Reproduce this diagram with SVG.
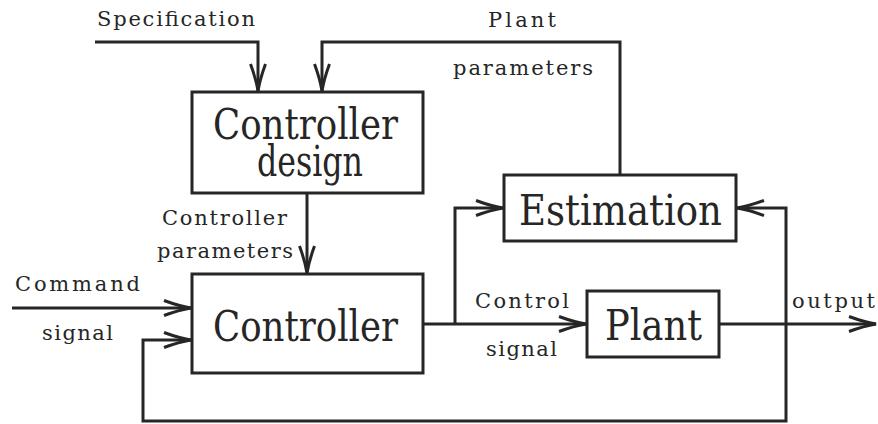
<svg xmlns="http://www.w3.org/2000/svg" width="878" height="424" viewBox="0 0 878 424">
  <style>
    .box { fill: #ffffff; stroke: #262626; stroke-width: 3; }
    .wire { fill: none; stroke: #262626; stroke-width: 3; }
    .arr { marker-end: url(#head); }
    .big { font-family: "DejaVu Serif", serif; font-size: 42px; fill: #262626; }
    .lbl { font-family: "DejaVu Serif", serif; font-size: 21px; fill: #262626; }
  </style>
  <defs>
    <marker id="head" viewBox="-30 -10 32 20" refX="0" refY="0" markerWidth="32" markerHeight="20" markerUnits="userSpaceOnUse" orient="auto">
      <path d="M -27 -7.5 Q -12 -2 0 0 Q -12 2 -27 7.5" fill="none" stroke="#262626" stroke-width="3" stroke-linejoin="miter"/>
    </marker>
  </defs>

  <rect width="878" height="424" fill="#ffffff"/>

  <!-- signal paths -->
  <g id="connectors">
    <path class="wire arr" d="M 95 42 H 258 V 91"/>
    <path class="wire arr" d="M 620 175 V 42 H 322 V 91"/>
    <path class="wire arr" d="M 307 193 V 273"/>
    <path class="wire arr" d="M 12 308 H 191"/>
    <path class="wire" d="M 423 324 H 455"/>
    <path class="wire arr" d="M 455 324 H 586"/>
    <path class="wire arr" d="M 455 324 V 208 H 503"/>
    <path class="wire arr" d="M 719 324 H 876"/>
    <path class="wire arr" d="M 786 324 V 421 H 143 V 340 H 191"/>
    <path class="wire arr" d="M 786 324 V 208 H 737"/>
  </g>

  <g id="controller-design">
    <rect class="box" x="192" y="92" width="231" height="101"/>
    <text class="big" x="213" y="139" textLength="185" lengthAdjust="spacingAndGlyphs">Controller</text>
    <text class="big" x="257" y="176" textLength="106" lengthAdjust="spacingAndGlyphs">design</text>
  </g>

  <g id="estimation">
    <rect class="box" x="504" y="175" width="232" height="66"/>
    <text class="big" x="519" y="225" textLength="203" lengthAdjust="spacingAndGlyphs">Estimation</text>
  </g>

  <g id="controller">
    <rect class="box" x="192" y="274" width="231" height="99"/>
    <text class="big" x="213" y="341" textLength="185" lengthAdjust="spacingAndGlyphs">Controller</text>
  </g>

  <g id="plant">
    <rect class="box" x="587" y="291" width="132" height="66"/>
    <text class="big" x="605" y="340" textLength="97" lengthAdjust="spacingAndGlyphs">Plant</text>
  </g>

  <!-- signal names -->
  <g id="labels">
    <text class="lbl" x="97" y="26" textLength="158" lengthAdjust="spacing">Specification</text>
    <text class="lbl" x="488" y="27" textLength="68" lengthAdjust="spacing">Plant</text>
    <text class="lbl" x="453" y="75" textLength="140" lengthAdjust="spacing">parameters</text>
    <text class="lbl" x="162" y="225" textLength="125" lengthAdjust="spacing">Controller</text>
    <text class="lbl" x="157" y="258" textLength="136" lengthAdjust="spacing">parameters</text>
    <text class="lbl" x="15" y="291" textLength="125" lengthAdjust="spacing">Command</text>
    <text class="lbl" x="42" y="340" textLength="71" lengthAdjust="spacing">signal</text>
    <text class="lbl" x="475" y="308" textLength="94" lengthAdjust="spacing">Control</text>
    <text class="lbl" x="486" y="356" textLength="71" lengthAdjust="spacing">signal</text>
    <text class="lbl" x="792" y="308" textLength="83" lengthAdjust="spacing">output</text>
  </g>
</svg>
